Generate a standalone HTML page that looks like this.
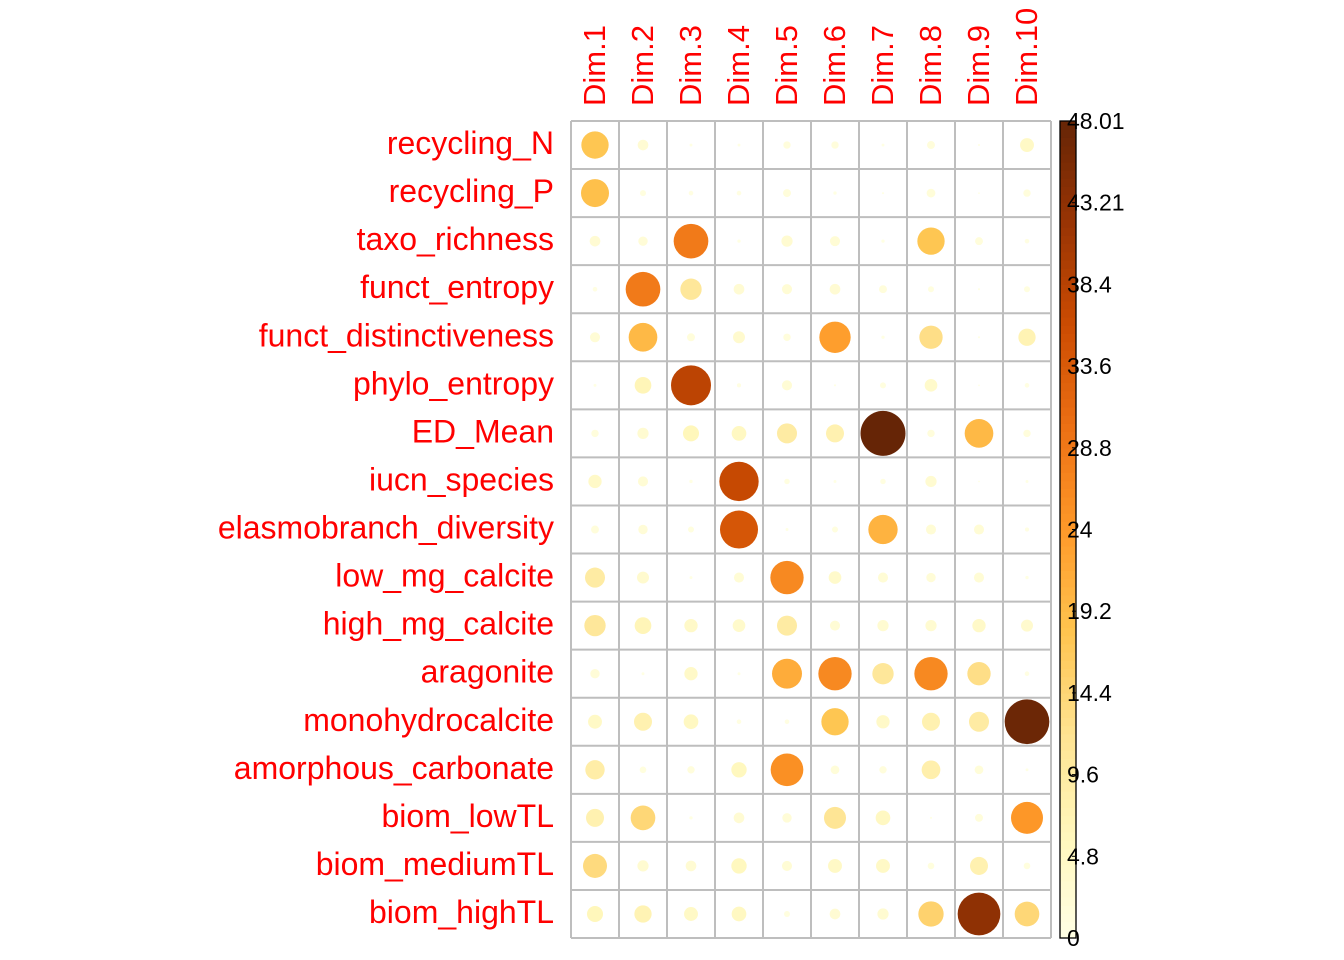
<!DOCTYPE html>
<html><head><meta charset="utf-8"><style>
html,body{margin:0;padding:0;background:#fff;}
svg{display:block;font-family:"Liberation Sans",Arial,sans-serif;}
</style></head><body>
<svg id="chart" width="1344" height="960" viewBox="0 0 1344 960"></svg>
<script>
const rowLabels=["recycling_N","recycling_P","taxo_richness","funct_entropy","funct_distinctiveness","phylo_entropy","ED_Mean","iucn_species","elasmobranch_diversity","low_mg_calcite","high_mg_calcite","aragonite","monohydrocalcite","amorphous_carbonate","biom_lowTL","biom_mediumTL","biom_highTL"];
const colLabels=["Dim.1","Dim.2","Dim.3","Dim.4","Dim.5","Dim.6","Dim.7","Dim.8","Dim.9","Dim.10"];
const values=[
[17.7,2.7,0.2,0.2,1.3,1.3,0.2,1.5,0.1,4.6],
[18.6,0.85,0.5,0.5,1.5,0.26,0.1,1.8,0.07,1.3],
[2.7,2.1,28.5,0.26,3.0,2.4,0.26,17.7,1.5,0.5],
[0.5,28.5,10.8,2.7,2.4,2.7,1.5,0.85,0.1,0.85],
[2.4,19.5,1.5,3.4,1.3,23.3,0.26,12.9,0.1,7.1],
[0.2,6.6,37.9,0.4,2.4,0.1,0.85,3.8,0.07,0.5],
[1.3,3.0,6.1,5.1,9.5,7.7,48.0,1.3,19.5,1.3],
[4.2,2.4,0.26,36.7,0.7,0.2,0.7,3.0,0.07,0.2],
[1.5,2.1,0.85,34.3,0.2,0.85,20.4,2.4,2.4,0.4],
[9.5,3.4,0.2,2.4,26.3,3.8,2.4,2.1,2.4,0.26],
[10.8,6.6,4.2,3.8,9.5,2.4,3.0,3.0,4.2,3.4],
[2.1,0.2,4.2,0.2,21.3,26.3,10.8,26.3,12.9,0.5],
[4.6,7.7,5.1,0.5,0.5,17.7,4.2,7.7,9.5,47.3],
[8.9,1.05,1.3,5.6,25.3,1.8,1.3,8.3,1.8,0.2],
[7.7,14.4,0.26,2.7,2.1,11.5,5.1,0.1,1.5,24.3],
[13.7,3.0,2.7,5.6,2.4,4.6,4.6,1.05,7.7,1.05],
[6.1,7.1,4.6,5.1,0.85,2.7,3.0,15.2,43.2,14.4]];
const tickLabels=["0","4.8","9.6","14.4","19.2","24","28.8","33.6","38.4","43.21","48.01"];
const vmax=48.01;

const NS="http://www.w3.org/2000/svg";
const svg=document.getElementById('chart');
function mk(tag,attrs,parent){const e=document.createElementNS(NS,tag);for(const k in attrs)e.setAttribute(k,attrs[k]);(parent||svg).appendChild(e);return e;}
const x0=571,y0=121,cw=48,ch=48.06;
const pal=["#FFFFE5","#FFF7BC","#FEE391","#FEC44F","#FE9929","#EC7014","#CC4C02","#993404","#662506"];
function hex(c){return [1,3,5].map(i=>parseInt(c.substr(i,2),16));}
function color(v){let t=Math.max(0,Math.min(1,v/vmax))*(pal.length-1);let i=Math.min(Math.floor(t),pal.length-2);let f=t-i;const a=hex(pal[i]),b=hex(pal[i+1]);return "rgb("+a.map((x,k)=>Math.round(x+(b[k]-x)*f)).join(",")+")";}
const xs=j=>x0+cw*j+cw/2, ys=i=>y0+ch*i+ch/2, rs=v=>22.5*Math.sqrt(Math.max(v,0)/vmax);

const grid=mk('g',{});


for(let j=0;j<=colLabels.length;j++){const l=mk('line',{x1:x0+cw*j,y1:y0,x2:x0+cw*j,y2:y0+ch*rowLabels.length,stroke:"#BEBEBE","stroke-width":2},grid);}
for(let i=0;i<=rowLabels.length;i++){const l=mk('line',{x1:x0,y1:y0+ch*i,x2:x0+cw*colLabels.length,y2:y0+ch*i,stroke:"#BEBEBE","stroke-width":2},grid);}

const circles=mk('g',{});


values.forEach((row,i)=>row.forEach((v,j)=>{const c=mk('circle',{cx:xs(j),cy:ys(i),r:rs(v),fill:color(v)},circles);

}));

rowLabels.forEach((t,i)=>{const e=mk('text',{x:554,y:ys(i)+9,"text-anchor":"end","font-size":32,fill:"#FF0000"});e.textContent=t;

});
colLabels.forEach((t,j)=>{const e=mk('text',{x:0,y:0,"font-size":31,fill:"#FF0000",transform:"translate("+(xs(j)+10)+",106) rotate(-90)"});e.textContent=t;

});

// colorbar
const cb=mk('g',{});


const cbTop=121,cbBot=938,cbX=1060,cbW=16,N=100;
for(let k=0;k<N;k++){const v=vmax*(k+0.5)/N;const h=(cbBot-cbTop)/N;mk('rect',{x:cbX,y:cbBot-(k+1)*h,width:cbW,height:h+0.6,fill:color(v)},cb);}
mk('rect',{x:cbX,y:cbTop,width:cbW,height:cbBot-cbTop,fill:"none",stroke:"#000","stroke-width":1.3},cb);
tickLabels.forEach((t,k)=>{const y=cbBot-(cbBot-cbTop)*k/(tickLabels.length-1);
mk('line',{x1:cbX+cbW-4,y1:y,x2:cbX+cbW,y2:y,stroke:"#000","stroke-width":1},cb);
const e=mk('text',{x:1067,y:y+8,"font-size":23,fill:"#000"},cb);e.textContent=t;

});
</script>
</body></html>
